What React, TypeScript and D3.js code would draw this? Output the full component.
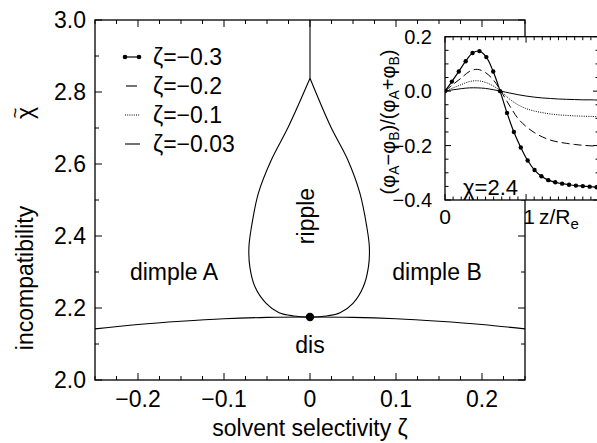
import React from "react";
import * as d3 from "d3";

// ---------- main axes ----------
const zetaTicks = [-0.2, -0.1, 0, 0.1, 0.2];
const zetaTickLabels = ["−0.2", "−0.1", "0", "0.1", "0.2"];
const chiTicks = [2.0, 2.2, 2.4, 2.6, 2.8, 3.0];
const chiTickLabels = ["2.0", "2.2", "2.4", "2.6", "2.8", "3.0"];

// disordered / dimple boundary
const disZeta = [-0.25, -0.2, -0.15, -0.1, -0.05, 0, 0.05, 0.1, 0.15, 0.2, 0.25];
const disChi = [2.142, 2.154, 2.163, 2.17, 2.174, 2.175, 2.174, 2.17, 2.163, 2.154, 2.142];

// ripple teardrop (right half, from cusp to critical point)
const rippleRightZeta = [0, 0.024, 0.044, 0.058, 0.066, 0.069, 0.068, 0.062, 0.05, 0.035, 0.019, 0];
const rippleRightChi = [2.838, 2.704, 2.611, 2.519, 2.426, 2.37, 2.315, 2.259, 2.213, 2.187, 2.178, 2.175];
// left half
const rippleLeftZeta = [0, -0.025, -0.045, -0.06, -0.068, -0.071, -0.07, -0.064, -0.051, -0.036, -0.019, 0];
const rippleLeftChi = [2.838, 2.704, 2.611, 2.519, 2.426, 2.37, 2.315, 2.259, 2.213, 2.187, 2.178, 2.175];

// vertical line above cusp
const stemZeta = [0, 0];
const stemChi = [2.838, 3.0];

// critical point
const critZeta = [0];
const critChi = [2.175];

// ---------- inset ----------
const insetXTicks = [0, 1];
const insetXTickLabels = ["0", "1"];
const insetYTicks = [0.2, 0.0, -0.2, -0.4];
const insetYTickLabels = ["0.2", "0.0", "−0.2", "−0.4"];

// zeta = -0.3 (dots)
const dotX = [0, 0.085, 0.17, 0.255, 0.34, 0.425, 0.51, 0.595, 0.68, 0.765, 0.85, 0.935, 1.02, 1.105, 1.19, 1.275, 1.36, 1.445, 1.53, 1.615, 1.7, 1.785, 1.87];
const dotY = [0, 0.035, 0.072, 0.11, 0.14, 0.147, 0.125, 0.072, 0.0, -0.08, -0.15, -0.207, -0.255, -0.29, -0.313, -0.327, -0.335, -0.34, -0.344, -0.347, -0.349, -0.351, -0.353];

const curveX = [0, 0.1, 0.2, 0.3, 0.4, 0.5, 0.6, 0.69, 0.8, 0.9, 1.0, 1.1, 1.2, 1.3, 1.4, 1.5, 1.6, 1.7, 1.8, 1.9];
// zeta = -0.2 (dashed)
const curveY02 = [0, 0.025, 0.048, 0.072, 0.08, 0.068, 0.04, 0, -0.055, -0.1, -0.13, -0.152, -0.168, -0.18, -0.187, -0.192, -0.196, -0.199, -0.201, -0.203];
// zeta = -0.1 (dotted)
const curveY01 = [0, 0.012, 0.024, 0.035, 0.038, 0.032, 0.018, 0, -0.03, -0.05, -0.064, -0.073, -0.079, -0.084, -0.087, -0.089, -0.091, -0.092, -0.093, -0.094];
// zeta = -0.03 (solid)
const curveY003 = [0, 0.005, 0.009, 0.012, 0.012, 0.01, 0.005, 0, -0.007, -0.013, -0.018, -0.022, -0.025, -0.027, -0.029, -0.03, -0.031, -0.032, -0.032, -0.033];

const legendLabels = ["ζ=−0.3", "ζ=−0.2", "ζ=−0.1", "ζ=−0.03"];

const FONT = "'Liberation Sans', Arial, Helvetica, sans-serif";

function zip(a: number[], b: number[]): [number, number][] {
  return a.map((v, i) => [v, b[i]] as [number, number]);
}

export default function App() {
  const W = 597, H = 443;
  const x = d3.scaleLinear().domain([-0.25, 0.25]).range([95, 525]);
  const y = d3.scaleLinear().domain([2.0, 3.0]).range([380, 20]);
  const ix = d3.scaleLinear().domain([0, 1.9]).range([445, 599]);
  const iy = d3.scaleLinear().domain([-0.4, 0.2]).range([200, 36.7]);

  const mline = d3.line<[number, number]>().x(d => x(d[0])).y(d => y(d[1])).curve(d3.curveCatmullRom.alpha(0.5));
  const iline = d3.line<[number, number]>().x(d => ix(d[0])).y(d => iy(d[1])).curve(d3.curveCatmullRom.alpha(0.5));

  const [x0, x1] = x.range();
  const [y0, y1] = y.range(); // y0 bottom, y1 top
  const minorX = d3.range(-0.25, 0.2501, 0.025);
  const minorY = d3.range(2.0, 3.0001, 0.1);

  const [ix0, ix1] = ix.range();
  const [iy0, iy1] = iy.range();
  const iMinorX = d3.range(0, 1.9001, 0.1);
  const iMinorY = d3.range(-0.4, 0.2001, 0.05);

  const fs = 23;
  const ifs = 20;

  return (
    <svg width={W} height={H} style={{ position: "absolute", left: 0, top: 0, background: "#fff" }} fontFamily={FONT}>
      <rect x={0} y={0} width={W} height={H} fill="#fff" />
      {/* main curves */}
      <g fill="none" stroke="#000" strokeWidth={1.1}>
        <path d={mline(zip(disZeta, disChi)) || ""} />
        <path d={mline(zip(rippleRightZeta, rippleRightChi)) || ""} />
        <path d={mline(zip(rippleLeftZeta, rippleLeftChi)) || ""} />
        <path d={d3.line<[number, number]>().x(d => x(d[0])).y(d => y(d[1]))(zip(stemZeta, stemChi)) || ""} />
      </g>
      {critZeta.map((z, i) => (
        <circle key={i} cx={x(z)} cy={y(critChi[i])} r={4.2} fill="#000" />
      ))}

      {/* main frame */}
      <rect x={x0} y={y1} width={x1 - x0} height={y0 - y1} fill="none" stroke="#000" strokeWidth={1.3} />
      <g stroke="#000" strokeWidth={1}>
        {minorX.map((v, i) => {
          const major = zetaTicks.some(t => Math.abs(t - v) < 1e-6);
          const L = major ? 7 : 4;
          return (
            <g key={i}>
              <line x1={x(v)} x2={x(v)} y1={y0} y2={y0 - L} />
              <line x1={x(v)} x2={x(v)} y1={y1} y2={y1 + L} />
            </g>
          );
        })}
        {minorY.map((v, i) => {
          const major = chiTicks.some(t => Math.abs(t - v) < 1e-6);
          const L = major ? 7 : 4;
          return (
            <g key={i}>
              <line x1={x0} x2={x0 + L} y1={y(v)} y2={y(v)} />
              <line x1={x1} x2={x1 - L} y1={y(v)} y2={y(v)} />
            </g>
          );
        })}
      </g>
      <g fontSize={fs} fill="#000">
        {zetaTicks.map((t, i) => (
          <text key={i} x={x(t)} y={y0 + 27} textAnchor="middle">{zetaTickLabels[i]}</text>
        ))}
        {chiTicks.map((t, i) => (
          <text key={i} x={x0 - 9} y={y(t)} dy="0.36em" textAnchor="end">{chiTickLabels[i]}</text>
        ))}
        <text x={310} y={436} textAnchor="middle">solvent selectivity ζ</text>
        <g transform="translate(33,278) rotate(-90)">
          <text x={0} y={0} textAnchor="middle">incompatibility</text>
        </g>
        <g transform="translate(33,113) rotate(-90)">
          <text x={0} y={0} textAnchor="middle">χ</text>
          <text x={0} y={-12} textAnchor="middle" fontSize={18}>~</text>
        </g>
        <text x={174} y={280} textAnchor="middle">dimple A</text>
        <text x={437} y={280} textAnchor="middle">dimple B</text>
        <text x={310} y={353} textAnchor="middle">dis</text>
        <g transform="translate(314,216) rotate(-90)">
          <text x={0} y={0} textAnchor="middle">ripple</text>
        </g>
      </g>

      {/* legend */}
      <g>
        {legendLabels.map((lab, i) => {
          const cy = 57 + i * 29;
          return (
            <g key={i}>
              {i === 0 && (
                <g>
                  <line x1={125} x2={139} y1={cy} y2={cy} stroke="#000" strokeWidth={1.2} />
                  <circle cx={125} cy={cy} r={2.3} fill="#000" />
                  <circle cx={139} cy={cy} r={2.3} fill="#000" />
                </g>
              )}
              {i === 1 && <line x1={126} x2={137} y1={cy} y2={cy} stroke="#000" strokeWidth={1.1} />}
              {i === 2 && <line x1={125} x2={140} y1={cy} y2={cy} stroke="#000" strokeWidth={1} strokeDasharray="1,1.2" />}
              {i === 3 && <line x1={125} x2={140} y1={cy} y2={cy} stroke="#000" strokeWidth={1.1} />}
              <text x={153} y={cy} dy="0.36em" fontSize={fs} fill="#000">{lab}</text>
            </g>
          );
        })}
      </g>

      {/* inset */}
      <defs>
        <clipPath id="insetClip">
          <rect x={ix0} y={iy1} width={ix1 - ix0} height={iy0 - iy1} />
        </clipPath>
      </defs>
      <rect x={ix0} y={iy1} width={ix1 - ix0} height={iy0 - iy1} fill="#fff" stroke="none" />
      <g clipPath="url(#insetClip)" fill="none" stroke="#000">
        <path d={iline(zip(curveX, curveY003)) || ""} strokeWidth={1} />
        <path d={iline(zip(curveX, curveY01)) || ""} strokeWidth={1} strokeDasharray="1,1.3" />
        <path d={iline(zip(curveX, curveY02)) || ""} strokeWidth={1} strokeDasharray="8,4" />
        <path d={iline(zip(dotX, dotY)) || ""} strokeWidth={1.2} />
        {dotX.map((v, i) => (
          <circle key={i} cx={ix(v)} cy={iy(dotY[i])} r={2.2} fill="#000" stroke="none" />
        ))}
      </g>
      <rect x={ix0} y={iy1} width={ix1 - ix0} height={iy0 - iy1} fill="none" stroke="#000" strokeWidth={1.3} />
      <g stroke="#000" strokeWidth={1}>
        {iMinorX.map((v, i) => {
          const major = insetXTicks.some(t => Math.abs(t - v) < 1e-6);
          const L = major ? 6 : 3.5;
          return (
            <g key={i}>
              <line x1={ix(v)} x2={ix(v)} y1={iy0} y2={iy0 - L} />
              <line x1={ix(v)} x2={ix(v)} y1={iy1} y2={iy1 + L} />
            </g>
          );
        })}
        {iMinorY.map((v, i) => {
          const major = insetYTicks.some(t => Math.abs(t - v) < 1e-6);
          const L = major ? 6 : 3.5;
          return (
            <g key={i}>
              <line x1={ix0} x2={ix0 + L} y1={iy(v)} y2={iy(v)} />
              <line x1={ix1} x2={ix1 - L} y1={iy(v)} y2={iy(v)} />
            </g>
          );
        })}
      </g>
      <g fontSize={ifs} fill="#000">
        {insetYTicks.map((t, i) => (
          <text key={i} x={ix0 - 13} y={iy(t)} dy="0.36em" textAnchor="end">{insetYTickLabels[i]}</text>
        ))}
        {insetXTicks.map((t, i) => (
          <text key={i} x={ix(t) + (i === 1 ? 3 : 0)} y={iy0 + 24} textAnchor="middle" fontSize={21}>{insetXTickLabels[i]}</text>
        ))}
        <text x={539} y={iy0 + 24} fontSize={21}>z/R<tspan fontSize={15} dy={5}>e</tspan></text>
        <text x={463} y={195} fontSize={22}>χ=2.4</text>
        <g transform="translate(395,122) rotate(-90)">
          <text x={0} y={0} textAnchor="middle" fontSize={20}>
            (φ<tspan fontSize={14} dy={4}>A</tspan><tspan dy={-4}>−φ</tspan><tspan fontSize={14} dy={4}>B</tspan><tspan dy={-4}>)/(φ</tspan><tspan fontSize={14} dy={4}>A</tspan><tspan dy={-4}>+φ</tspan><tspan fontSize={14} dy={4}>B</tspan><tspan dy={-4}>)</tspan>
          </text>
        </g>
      </g>
    </svg>
  );
}
